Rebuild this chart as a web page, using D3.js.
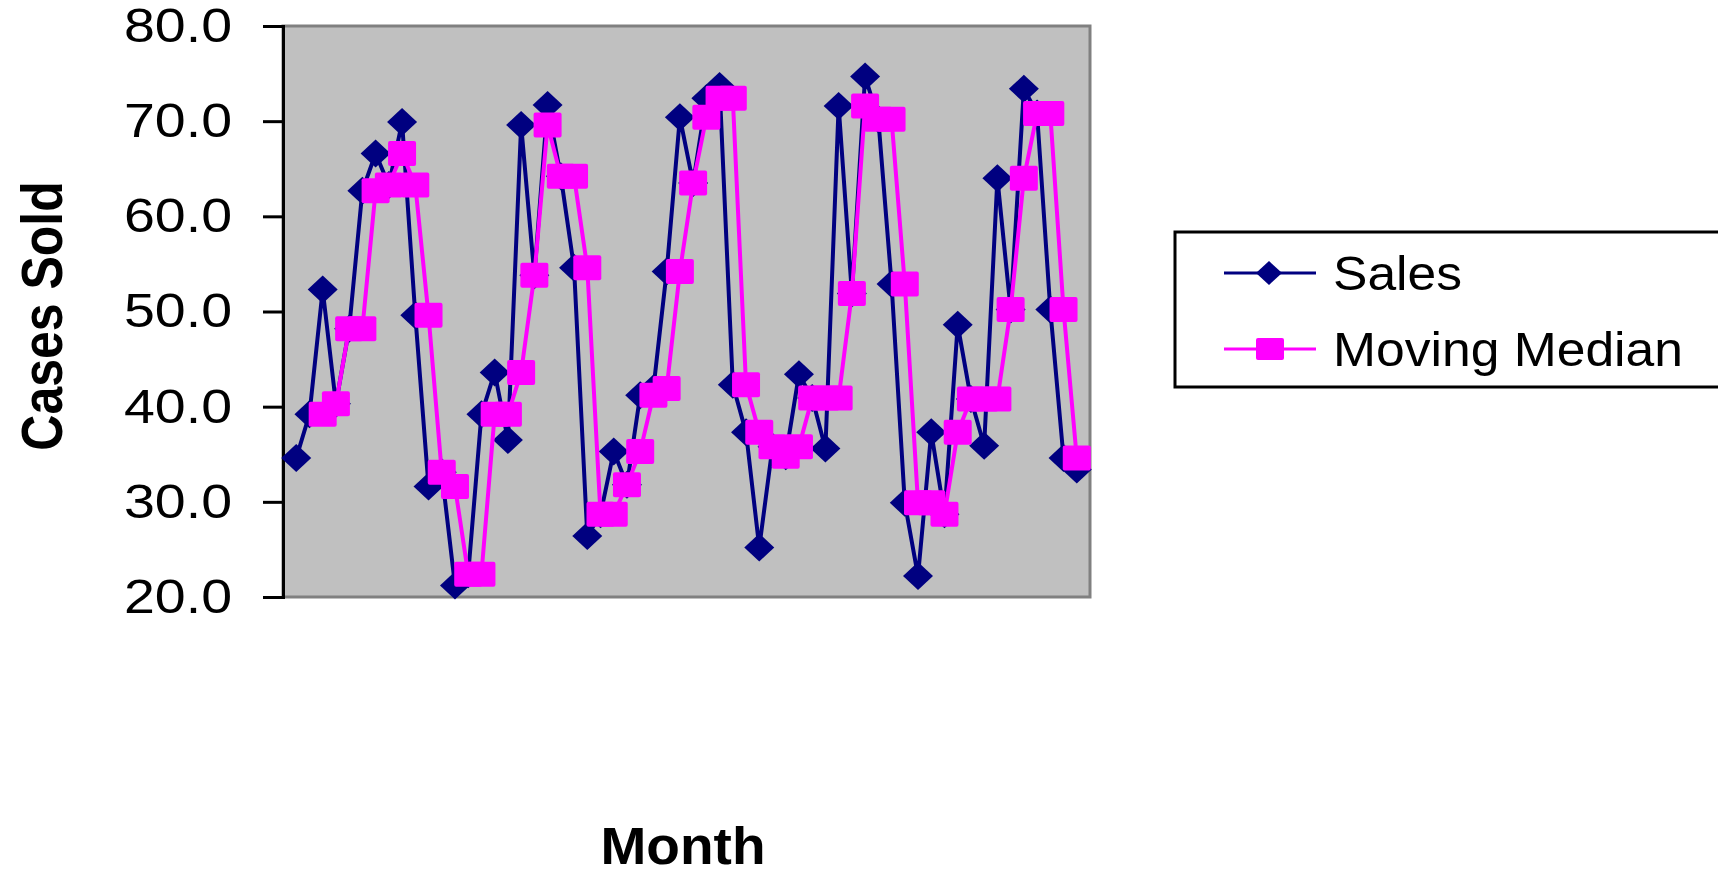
<!DOCTYPE html>
<html>
<head>
<meta charset="utf-8">
<script src="https://cdn.jsdelivr.net/npm/d3@7"></script>
<style>
  body { margin: 0; background: #fff; }
  text { font-family: "Liberation Sans", Arial, sans-serif; }
</style>
</head>
<body>
<div id="chart"></div>
<script>
// Data
const months = [1,2,3,4,5,6,7,8,9,10,11,12,13,14,15,16,17,18,19,20,
  21,22,23,24,25,26,27,28,29,30,31,32,33,34,35,36,37,38,39,40,
  41,42,43,44,45,46,47,48,49,50,51,52,53,54,55,56,57,58,59,60];

const sales = [34.6,39.2,52.3,40.3,48.2,62.7,66.6,63.3,69.9,49.6,
  31.6,33.1,21.2,22.4,39.2,43.6,36.5,69.6,53.8,71.7,
  64.2,54.6,26.4,28.7,35.3,31.8,41.2,41.9,54.2,70.4,
  63.5,72.4,73.7,42.3,37.3,25.2,35.8,34.8,43.4,40.9,
  35.6,71.6,51.9,74.7,70.2,52.9,29.9,22.2,37.3,28.7,
  48.6,40.8,35.9,64.0,50.2,73.4,70.8,50.2,34.6,33.4];

const movingMedian = [null,null,39.2,40.3,48.2,48.2,62.7,63.3,66.6,63.3,
  49.6,33.1,31.6,22.4,22.4,39.2,39.2,43.6,53.8,69.6,
  64.2,64.2,54.6,28.7,28.7,31.8,35.3,41.2,41.9,54.2,
  63.5,70.4,72.4,72.4,42.3,37.3,35.8,34.8,35.8,40.9,
  40.9,40.9,51.9,71.6,70.2,70.2,52.9,29.9,29.9,28.7,
  37.3,40.8,40.8,40.8,50.2,64.0,70.8,70.8,50.2,34.6];

const yTicks = [20, 30, 40, 50, 60, 70, 80];

const svg = d3.select("#chart")
    .append("svg")
    .attr("width", 1718)
    .attr("height", 876);

// plot area
const plot = { left: 283, right: 1090, top: 26, bottom: 597 };

const x = d3.scalePoint()
    .domain(months)
    .range([plot.left, plot.right])
    .padding(1);

const y = d3.scaleLinear()
    .domain([20, 80])
    .range([plot.bottom, plot.top]);

svg.append("rect")
    .attr("x", plot.left)
    .attr("y", plot.top)
    .attr("width", plot.right - plot.left)
    .attr("height", plot.bottom - plot.top)
    .attr("fill", "#c0c0c0")
    .attr("stroke", "#808080")
    .attr("stroke-width", 3);

// y axis
const yAxis = svg.append("g")
    .attr("transform", `translate(${plot.left},0)`)
    .call(d3.axisLeft(y).tickValues(yTicks).tickFormat(d3.format(".1f")).tickSize(20).tickPadding(31));

yAxis.select(".domain")
    .attr("stroke", "#000")
    .attr("stroke-width", 3);
yAxis.selectAll(".tick line")
    .attr("stroke", "#000")
    .attr("stroke-width", 3);
yAxis.selectAll(".tick text")
    .attr("font-family", "Liberation Sans, Arial, sans-serif")
    .attr("font-size", 48)
    .attr("fill", "#000")
    .attr("textLength", 108)
    .attr("lengthAdjust", "spacingAndGlyphs");

// axis titles
svg.append("text")
    .attr("transform", "translate(62,316) rotate(-90) scale(1,1.16)")
    .attr("text-anchor", "middle")
    .attr("font-size", 50)
    .attr("font-weight", "bold")
    .text("Cases Sold");

svg.append("text")
    .attr("x", 683)
    .attr("y", 864)
    .attr("text-anchor", "middle")
    .attr("font-size", 51)
    .attr("font-weight", "bold")
    .attr("textLength", 165)
    .attr("lengthAdjust", "spacingAndGlyphs")
    .text("Month");

const diamond = (w, h) => `M0,${-h}L${w},0L0,${h}L${-w},0Z`;

const salesData = months.map((m, i) => ({ m: m, v: sales[i] }));
const medianData = months.map((m, i) => ({ m: m, v: movingMedian[i] }))
    .filter(d => d.v != null);

const line = d3.line()
    .x(d => x(d.m))
    .y(d => y(d.v));

// Sales
svg.append("path")
    .datum(salesData)
    .attr("fill", "none")
    .attr("stroke", "#000080")
    .attr("stroke-width", 4)
    .attr("stroke-linejoin", "round")
    .attr("d", line);

svg.append("g")
    .selectAll("path")
    .data(salesData)
    .join("path")
    .attr("transform", d => `translate(${x(d.m)},${y(d.v)})`)
    .attr("d", diamond(15, 14))
    .attr("fill", "#000080");

// Moving Median
svg.append("path")
    .datum(medianData)
    .attr("fill", "none")
    .attr("stroke", "#ff00ff")
    .attr("stroke-width", 4)
    .attr("stroke-linejoin", "round")
    .attr("d", line);

svg.append("g")
    .selectAll("rect")
    .data(medianData)
    .join("rect")
    .attr("x", d => x(d.m) - 14)
    .attr("y", d => y(d.v) - 12.5)
    .attr("width", 28)
    .attr("height", 25)
    .attr("rx", 2)
    .attr("fill", "#ff00ff");

// legend
const legend = svg.append("g");
legend.append("rect")
    .attr("x", 1175)
    .attr("y", 232)
    .attr("width", 600)
    .attr("height", 155)
    .attr("fill", "#fff")
    .attr("stroke", "#000")
    .attr("stroke-width", 3);

const items = [
    { name: "Sales", color: "#000080", y: 273, shape: "diamond", len: 129 },
    { name: "Moving Median", color: "#ff00ff", y: 349, shape: "square", len: 350 }
];

const li = legend.selectAll("g.item")
    .data(items)
    .join("g")
    .attr("class", "item")
    .attr("transform", d => `translate(0,${d.y})`);

li.append("line")
    .attr("x1", 1224)
    .attr("x2", 1316)
    .attr("stroke", d => d.color)
    .attr("stroke-width", 3);

li.filter(d => d.shape === "diamond").append("path")
    .attr("transform", "translate(1269,0)")
    .attr("d", diamond(13, 12))
    .attr("fill", d => d.color);

li.filter(d => d.shape === "square").append("rect")
    .attr("x", 1256)
    .attr("y", -11)
    .attr("width", 28)
    .attr("height", 22)
    .attr("rx", 2)
    .attr("fill", d => d.color);

li.append("text")
    .attr("x", 1333)
    .attr("y", 17)
    .attr("font-size", 48)
    .attr("textLength", d => d.len)
    .attr("lengthAdjust", "spacingAndGlyphs")
    .text(d => d.name);
</script>
</body>
</html>
